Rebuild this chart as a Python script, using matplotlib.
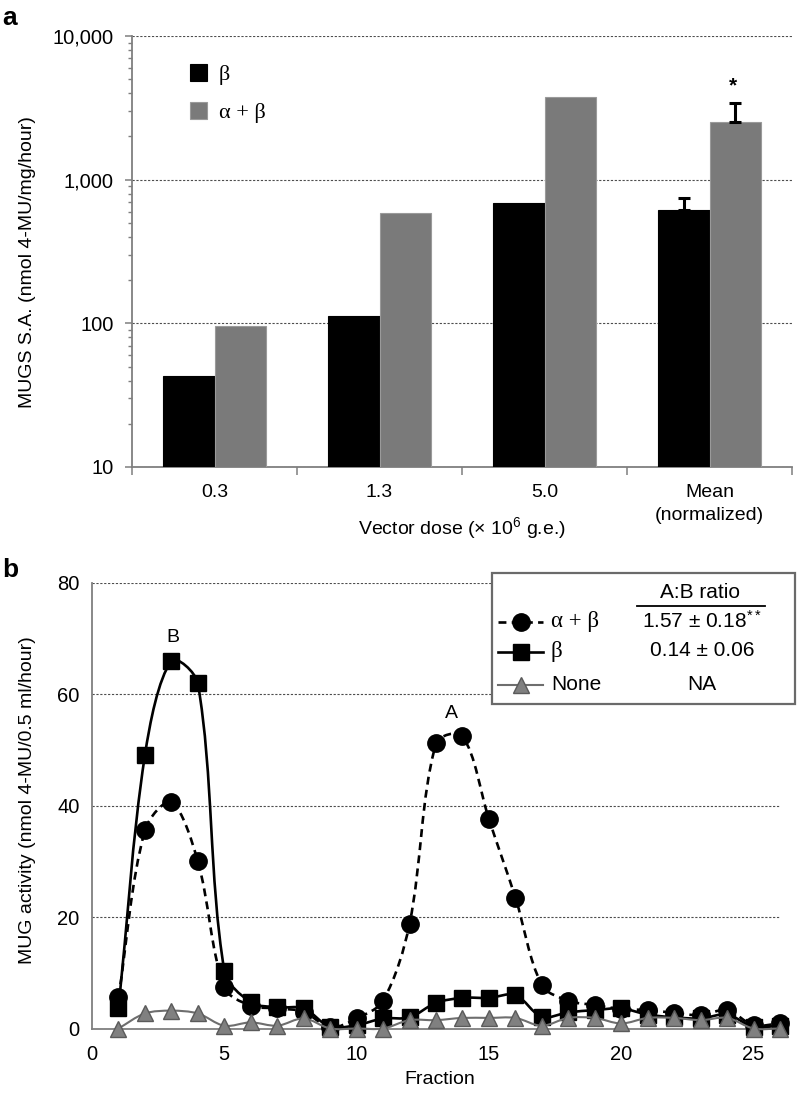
import matplotlib
matplotlib.use("Agg")
import matplotlib.pyplot as plt
from matplotlib.path import Path
from matplotlib.patches import PathPatch, Rectangle
from matplotlib.lines import Line2D
import matplotlib.ticker as mticker
import numpy as np

plt.rcParams['font.family'] = ['Liberation Sans', 'DejaVu Sans']
plt.rcParams['mathtext.default'] = 'regular'

# ---------------- data: panel a ----------------
dose_labels = ['0.3', '1.3', '5.0', 'Mean\n(normalized)']
beta_sa = [43, 112, 690, 614]
alphabeta_sa = [96, 585, 3760, 2515]
beta_err_up = [0, 0, 0, 134]
alphabeta_err_up = [0, 0, 0, 921]

# ---------------- data: panel b ----------------
fraction = list(range(1, 27))
mug_alphabeta = [5.6, 35.6, 40.6, 30.0, 7.4, 4.1, 3.6, 3.0, 0.2, 1.8, 5.0, 18.8, 51.2,
                 52.5, 37.6, 23.5, 7.8, 5.0, 4.2, 3.5, 3.3, 2.8, 2.4, 3.3, 0.6, 0.9]
mug_beta = [3.6, 49.1, 66.0, 62.0, 10.4, 4.7, 3.8, 3.6, 0.3, 0.6, 1.8, 2.0, 4.6,
            5.5, 5.5, 6.0, 2.1, 2.9, 3.3, 3.6, 2.5, 2.0, 1.8, 2.5, 0.3, 0.5]
mug_none = [0.0, 2.7, 3.2, 2.7, 0.5, 1.1, 0.5, 1.8, 0.0, 0.0, 0.0, 1.5, 1.5,
            1.9, 1.9, 1.9, 0.5, 1.9, 1.9, 0.9, 1.9, 1.9, 1.5, 1.9, 0.0, 0.0]
ratio_labels = ['1.57 ± 0.18$^{**}$', '0.14 ± 0.06', 'NA']

W, H = 798, 1095
fig = plt.figure(figsize=(W / 100, H / 100), dpi=100)

def fx(px):
    return px / W

def fy(py):
    return 1 - py / H

SPINE = '#7f7f7f'
GRIDC = '#4d4d4d'
FS = 14

# ================= panel a =================
axa = fig.add_axes([fx(132), fy(467), fx(792) - fx(132), fy(36) - fy(467)])
xc = np.arange(len(dose_labels)) + 0.5
bw = 0.31
b1 = axa.bar(xc - bw / 2, beta_sa, bw, color='black', edgecolor='black', lw=0.8, zorder=3)
b2 = axa.bar(xc + bw / 2, alphabeta_sa, bw, color='#7a7a7a', edgecolor='#9a9a9a', lw=0.8, zorder=3)
i = 3
axa.errorbar([xc[i] - bw / 2], [beta_sa[i]], yerr=[[0], [beta_err_up[i]]], fmt='none',
             ecolor='black', elinewidth=2.2, capsize=4, capthick=2.2, zorder=4)
axa.errorbar([xc[i] + bw / 2], [alphabeta_sa[i]], yerr=[[0], [alphabeta_err_up[i]]], fmt='none',
             ecolor='black', elinewidth=2.2, capsize=4, capthick=2.2, zorder=4)
axa.text(xc[i] + bw / 2 - 0.01, 4500, '*', ha='center', va='center', fontsize=15, fontweight='bold')

axa.set_yscale('log')
axa.set_ylim(10, 10000)
axa.set_xlim(0, 4)
axa.yaxis.set_major_locator(mticker.FixedLocator([10, 100, 1000, 10000]))
axa.yaxis.set_major_formatter(mticker.FuncFormatter(lambda v, p: f'{v:,.0f}'))
axa.yaxis.set_minor_locator(mticker.LogLocator(base=10, subs=np.arange(2, 10)))
axa.yaxis.set_minor_formatter(mticker.NullFormatter())
axa.set_xticks([0, 1, 2, 3, 4])
axa.set_xticklabels([])
axa.set_xticks(xc, minor=True)
axa.set_xticklabels(dose_labels, minor=True, fontsize=FS, linespacing=1.45)
axa.tick_params(axis='x', which='major', direction='out', length=6, width=1.1, color=SPINE)
axa.tick_params(axis='x', which='minor', length=0, pad=12)
axa.tick_params(axis='y', which='major', direction='out', length=5, width=1.1, color=SPINE,
                labelsize=FS + 0.5, pad=8)
axa.tick_params(axis='y', which='minor', direction='out', length=3.2, width=1.0, color=SPINE)
for s in ['top', 'right']:
    axa.spines[s].set_visible(False)
for s in ['left', 'bottom']:
    axa.spines[s].set_color(SPINE)
    axa.spines[s].set_linewidth(1.3)
axa.yaxis.grid(True, which='major', color=GRIDC, linestyle=(0, (2, 1.5)), linewidth=0.8, zorder=0)
axa.set_axisbelow(True)
axa.set_ylabel('MUGS S.A. (nmol 4-MU/mg/hour)', fontsize=FS)
axa.yaxis.set_label_coords(-0.145, 0.476)
axa.set_xlabel('Vector dose (× 10$^{6}$ g.e.)', fontsize=FS)
axa.xaxis.set_label_coords(0.5, -0.112)
leg = axa.legend([b1, b2], ['β', 'α + β'], loc='upper left', bbox_to_anchor=(0.057, 0.981),
                 frameon=False, handlelength=0.8, handleheight=0.8, handletextpad=0.5,
                 labelspacing=0.75, prop={'family': 'Liberation Serif', 'size': 16})

fig.text(fx(2), fy(18), 'a', fontsize=19, fontweight='bold', ha='left', va='center')

# ================= panel b =================
B_LEFT, B_RIGHT, B_TOP, B_BOT = 92, 780, 583, 1028.5
axb = fig.add_axes([fx(B_LEFT), fy(B_BOT), fx(B_RIGHT) - fx(B_LEFT), fy(B_TOP) - fy(B_BOT)])
XMAX, YMAX = 26, 80
SX = (B_RIGHT - B_LEFT) / XMAX
SY = (B_BOT - B_TOP) / YMAX

def smooth_path(x, y):
    # chord-length scaled cardinal Bezier (spreadsheet-style smoothing), computed in pixel space
    x = np.asarray(x, float) * SX
    y = np.asarray(y, float) * SY
    P = np.column_stack([x, y])
    n = len(P)
    L = np.r_[np.hypot(*np.diff(P, axis=0).T)]
    T = np.zeros_like(P)
    for k in range(n):
        a = P[k - 1] if k > 0 else P[k]
        b = P[k + 1] if k < n - 1 else P[k]
        la = L[k - 1] if k > 0 else 0.0
        lb = L[k] if k < n - 1 else 0.0
        T[k] = (b - a) / max(la + lb, 1e-9)
    verts = [P[0]]
    codes = [Path.MOVETO]
    for k in range(n - 1):
        c1 = P[k] + T[k] * L[k] / 3
        c2 = P[k + 1] - T[k + 1] * L[k] / 3
        verts += [c1, c2, P[k + 1]]
        codes += [Path.CURVE4] * 3
    V = np.array(verts)
    V[:, 0] /= SX
    V[:, 1] /= SY
    return Path(V, codes)

style = {
    'beta': dict(color='black', ls='-', lw=1.9, marker='s', ms=11.5, mfc='black', mec='black'),
    'ab': dict(color='black', ls=(0, (3, 2)), lw=1.9, marker='o', ms=12.5, mfc='black', mec='black'),
    'none': dict(color='#6e6e6e', ls='-', lw=1.5, marker='^', ms=11.5, mfc='#808080', mec='#5a5a5a'),
}

for key, ys, z in [('beta', mug_beta, 3), ('ab', mug_alphabeta, 4), ('none', mug_none, 5)]:
    st = style[key]
    axb.add_patch(PathPatch(smooth_path(fraction, ys), fill=False, edgecolor=st['color'],
                            linestyle=st['ls'], linewidth=st['lw'], zorder=z, clip_on=False,
                            capstyle='butt'))
    axb.plot(fraction, ys, ls='none', marker=st['marker'], ms=st['ms'], mfc=st['mfc'],
             mec=st['mec'], mew=1.0, zorder=z + 0.1, clip_on=False)

axb.set_xlim(0, XMAX)
axb.set_ylim(0, YMAX)
axb.set_xticks([0, 5, 10, 15, 20, 25])
axb.set_yticks([0, 20, 40, 60, 80])
axb.tick_params(axis='both', length=0, labelsize=FS + 0.5)
axb.tick_params(axis='y', pad=9)
axb.tick_params(axis='x', pad=12)
for s in ['top', 'right']:
    axb.spines[s].set_visible(False)
for s in ['left', 'bottom']:
    axb.spines[s].set_color(SPINE)
    axb.spines[s].set_linewidth(1.3)
axb.yaxis.grid(True, color=GRIDC, linestyle=(0, (2, 1.5)), linewidth=0.8, zorder=0)
axb.set_axisbelow(True)
axb.set_ylabel('MUG activity (nmol 4-MU/0.5 ml/hour)', fontsize=FS)
axb.yaxis.set_label_coords(-0.081, 0.513)
axb.set_xlabel('Fraction', fontsize=FS)
axb.xaxis.set_label_coords(0.505, -0.095)

axb.text(3.05, 70.2, 'B', ha='center', va='center', fontsize=FS)
axb.text(13.6, 56.6, 'A', ha='center', va='center', fontsize=FS)

fig.text(fx(2), fy(570), 'b', fontsize=19, fontweight='bold', ha='left', va='center')

# legend box for panel b
fig.add_artist(Rectangle((fx(492), fy(704)), fx(795) - fx(492), fy(573) - fy(704),
                         transform=fig.transFigure, facecolor='white', edgecolor='#6a6a6a',
                         linewidth=1.6, zorder=6))
leg_rows = [('ab', 'α + β', 622, 'Liberation Serif'),
            ('beta', 'β', 652, 'Liberation Serif'),
            ('none', 'None', 685, 'Liberation Sans')]
for (key, lab, py, fam), rlab in zip(leg_rows, ratio_labels):
    st = style[key]
    fig.add_artist(Line2D([fx(498), fx(543)], [fy(py), fy(py)], transform=fig.transFigure,
                          color=st['color'], ls=st['ls'], lw=st['lw'], zorder=7))
    fig.add_artist(Line2D([fx(520.5)], [fy(py)], transform=fig.transFigure, ls='none',
                          marker=st['marker'], ms=st['ms'], mfc=st['mfc'], mec=st['mec'],
                          zorder=7.1))
    fig.text(fx(551), fy(py), lab, family=fam, fontsize=16.5 if fam != 'Liberation Sans' else FS + 1,
             ha='left', va='center', zorder=8)
    fig.text(fx(702), fy(py - 1), rlab, fontsize=FS + 1, ha='center', va='center', zorder=8)
fig.text(fx(700), fy(593), 'A:B ratio', fontsize=FS + 1, ha='center', va='center', zorder=8)
fig.add_artist(Line2D([fx(637), fx(765)], [fy(606), fy(606)], transform=fig.transFigure,
                      color='black', lw=1.3, zorder=8))

fig.savefig('out.png', dpi=100)
